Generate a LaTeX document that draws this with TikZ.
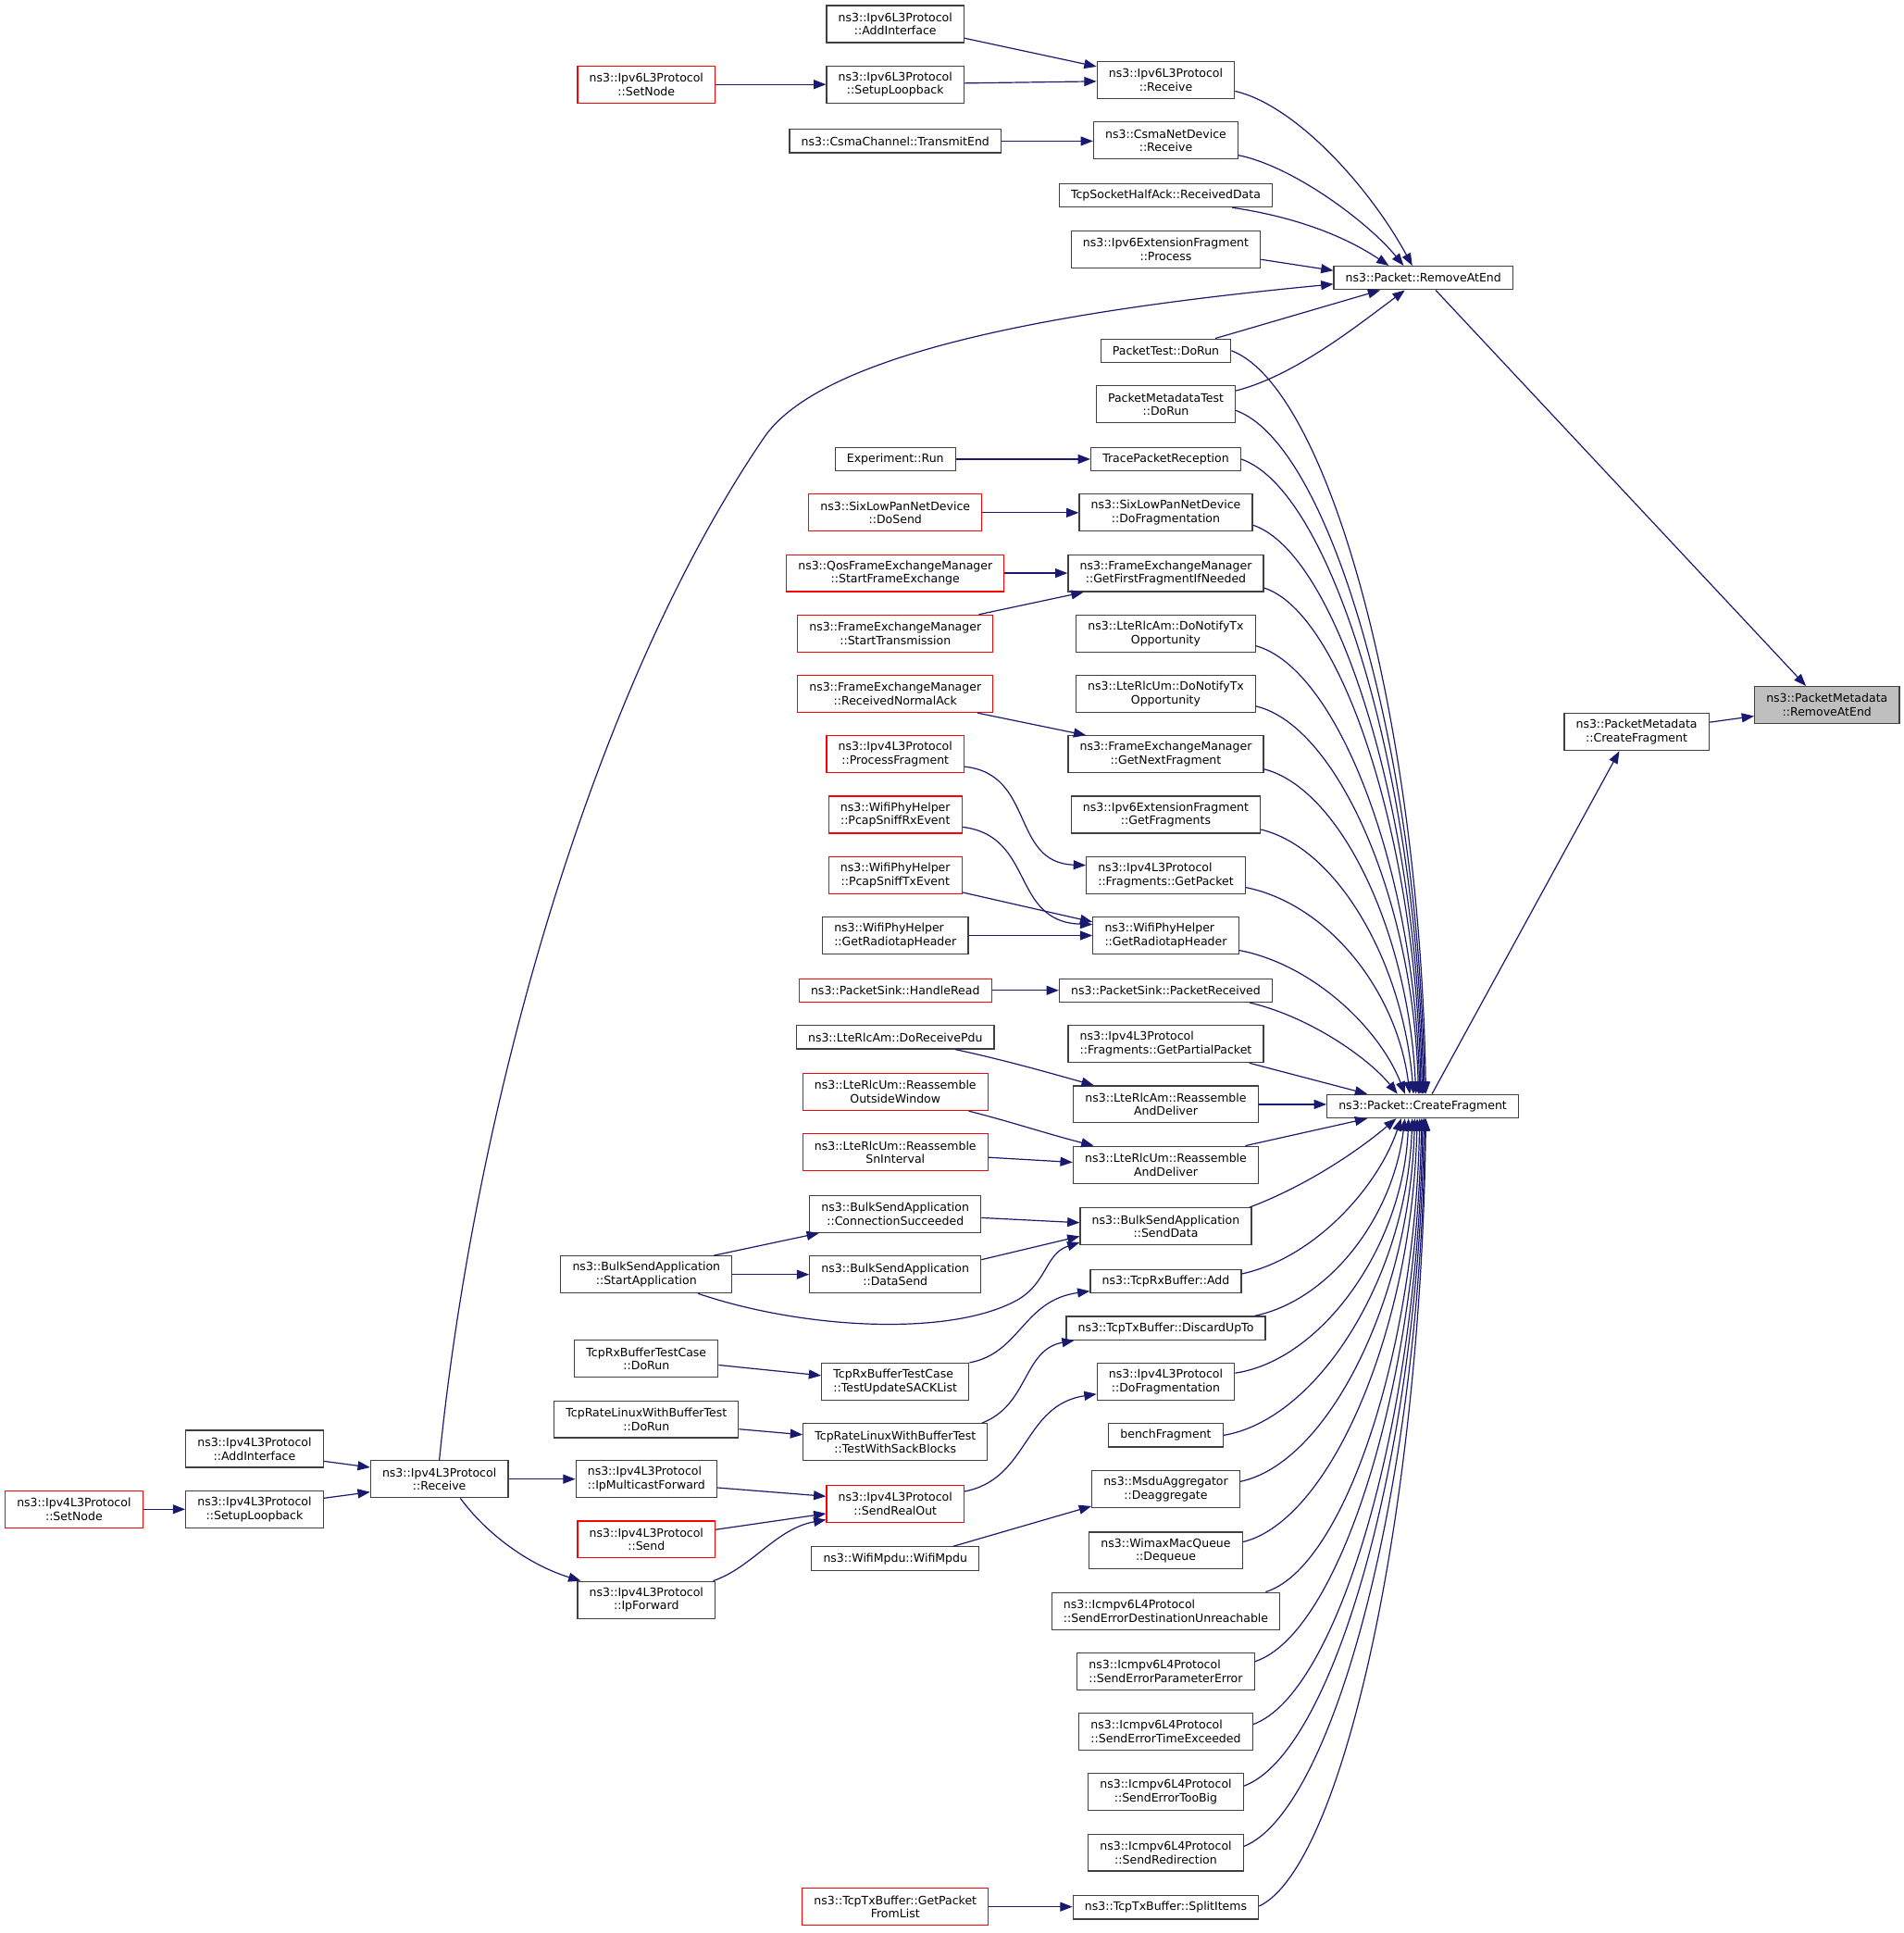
\documentclass[tikz,border=0pt]{standalone}
\usepackage{fontspec}
\setmainfont{DejaVu Sans}
\usetikzlibrary{arrows.meta,calc}
\definecolor{navy}{HTML}{191970}
\definecolor{bgray}{HTML}{404040}
\definecolor{focusgray}{HTML}{BFBFBF}
\newcommand\dxfont{\fontsize{9.4}{11}\selectfont}
\newcommand\fan[6]{\draw[dxedge] let \p1=(#1), \p2=(#2) in (\p1) .. controls ({\x1+#3*((\x2)-(\x1))},{\y1+#4*((\y2)-(\y1))}) and ({\x1+#5*((\x2)-(\x1))},{\y1+#6*((\y2)-(\y1))}) .. (\p2);}
\begin{document}
\begin{tikzpicture}[x=1pt,y=-1pt,
 dxnode/.style={draw=bgray, line width=0.9pt, inner xsep=9.5pt, inner ysep=0pt, minimum height=19pt, font=\dxfont, align=center, fill=white, text=black},
 dxtwo/.style={minimum height=30pt},
 dxred/.style={draw=red},
 dxfocus/.style={fill=focusgray},
 dxleft/.style={align=left},
 dxedge/.style={draw=navy, line width=0.9pt, -{Triangle[length=10pt,width=7.5pt]}}]
\fill[white] (0,0) rectangle (1545,1568.3);
\useasboundingbox (0,0) rectangle (1545,1568.3);

% right part
\node[dxnode,dxtwo,dxfocus] (pmremove) at (1482.5,572) {ns3::PacketMetadata\\::RemoveAtEnd};
\node[dxnode,dxtwo] (pmcreate) at (1328,594) {ns3::PacketMetadata\\::CreateFragment};
\node[dxnode] (rae) at (1155,225.5) {ns3::Packet::RemoveAtEnd};
\node[dxnode] (cf) at (1154.5,897.5) {ns3::Packet::CreateFragment};

% middle column
\node[dxnode,dxtwo] (v6recv) at (946,65) {ns3::Ipv6L3Protocol\\::Receive};
\node[dxnode,dxtwo] (csmarecv) at (946,114) {ns3::CsmaNetDevice\\::Receive};
\node[dxnode] (tcphalf) at (946,158.5) {TcpSocketHalfAck::ReceivedData};
\node[dxnode,dxtwo] (ipv6process) at (946,202.5) {ns3::Ipv6ExtensionFragment\\::Process};
\node[dxnode] (packettest) at (946,284.5) {PacketTest::DoRun};
\node[dxnode,dxtwo] (pmtest) at (946,328) {PacketMetadataTest\\::DoRun};
\node[dxnode] (trace) at (946,372.5) {TracePacketReception};
\node[dxnode,dxtwo] (sixfrag) at (946,416) {ns3::SixLowPanNetDevice\\::DoFragmentation};
\node[dxnode,dxtwo] (getfirst) at (946,465) {ns3::FrameExchangeManager\\::GetFirstFragmentIfNeeded};
\node[dxnode,dxtwo] (amnotify) at (946,514) {ns3::LteRlcAm::DoNotifyTx\\Opportunity};
\node[dxnode,dxtwo] (umnotify) at (946,563) {ns3::LteRlcUm::DoNotifyTx\\Opportunity};
\node[dxnode,dxtwo] (getnext) at (946,612) {ns3::FrameExchangeManager\\::GetNextFragment};
\node[dxnode,dxtwo] (getfrags) at (946,661) {ns3::Ipv6ExtensionFragment\\::GetFragments};
\node[dxnode,dxtwo,dxleft] (getpacket) at (946,710) {ns3::Ipv4L3Protocol\\::Fragments::GetPacket};
\node[dxnode,dxtwo,dxleft] (radiotapR) at (946,759) {ns3::WifiPhyHelper\\::GetRadiotapHeader};
\node[dxnode] (pktrecv) at (946,803.5) {ns3::PacketSink::PacketReceived};
\node[dxnode,dxtwo,dxleft] (partial) at (946,847) {ns3::Ipv4L3Protocol\\::Fragments::GetPartialPacket};
\node[dxnode,dxtwo] (amreasm) at (946,896) {ns3::LteRlcAm::Reassemble\\AndDeliver};
\node[dxnode,dxtwo] (umreasm) at (946,945) {ns3::LteRlcUm::Reassemble\\AndDeliver};
\node[dxnode,dxtwo] (senddata) at (946,995) {ns3::BulkSendApplication\\::SendData};
\node[dxnode] (rxadd) at (946,1039.5) {ns3::TcpRxBuffer::Add};
\node[dxnode] (discard) at (946,1077.5) {ns3::TcpTxBuffer::DiscardUpTo};
\node[dxnode,dxtwo] (ipv4frag) at (946,1121) {ns3::Ipv4L3Protocol\\::DoFragmentation};
\node[dxnode] (bench) at (946,1164.5) {benchFragment};
\node[dxnode,dxtwo] (deagg) at (946,1208) {ns3::MsduAggregator\\::Deaggregate};
\node[dxnode,dxtwo] (dequeue) at (946,1258) {ns3::WimaxMacQueue\\::Dequeue};
\node[dxnode,dxtwo,dxleft] (destun) at (946,1307) {ns3::Icmpv6L4Protocol\\::SendErrorDestinationUnreachable};
\node[dxnode,dxtwo,dxleft] (paramerr) at (946,1356) {ns3::Icmpv6L4Protocol\\::SendErrorParameterError};
\node[dxnode,dxtwo,dxleft] (timeexc) at (946,1405) {ns3::Icmpv6L4Protocol\\::SendErrorTimeExceeded};
\node[dxnode,dxtwo] (toobig) at (946,1454) {ns3::Icmpv6L4Protocol\\::SendErrorTooBig};
\node[dxnode,dxtwo] (redir) at (946,1503) {ns3::Icmpv6L4Protocol\\::SendRedirection};
\node[dxnode] (split) at (946,1547.5) {ns3::TcpTxBuffer::SplitItems};

% left column
\node[dxnode,dxtwo] (v6addif) at (726.5,19.5) {ns3::Ipv6L3Protocol\\::AddInterface};
\node[dxnode,dxtwo] (v6loop) at (726.5,68.5) {ns3::Ipv6L3Protocol\\::SetupLoopback};
\node[dxnode] (csmachan) at (726.5,114.5) {ns3::CsmaChannel::TransmitEnd};
\node[dxnode] (exprun) at (726.5,372.5) {Experiment::Run};
\node[dxnode,dxtwo,dxred] (dosend) at (726.5,416) {ns3::SixLowPanNetDevice\\::DoSend};
\node[dxnode,dxtwo,dxred] (qos) at (726.5,465) {ns3::QosFrameExchangeManager\\::StartFrameExchange};
\node[dxnode,dxtwo,dxred] (starttx) at (726.5,514) {ns3::FrameExchangeManager\\::StartTransmission};
\node[dxnode,dxtwo,dxred] (rxack) at (726.5,563) {ns3::FrameExchangeManager\\::ReceivedNormalAck};
\node[dxnode,dxtwo,dxred] (procfrag) at (726.5,612) {ns3::Ipv4L3Protocol\\::ProcessFragment};
\node[dxnode,dxtwo,dxred] (rxevent) at (726.5,661) {ns3::WifiPhyHelper\\::PcapSniffRxEvent};
\node[dxnode,dxtwo,dxred] (txevent) at (726.5,710) {ns3::WifiPhyHelper\\::PcapSniffTxEvent};
\node[dxnode,dxtwo,dxleft] (radiotapL) at (726.5,759) {ns3::WifiPhyHelper\\::GetRadiotapHeader};
\node[dxnode,dxred] (handleread) at (726.5,803.5) {ns3::PacketSink::HandleRead};
\node[dxnode] (rcvpdu) at (726.5,841.5) {ns3::LteRlcAm::DoReceivePdu};
\node[dxnode,dxtwo,dxred] (outside) at (726.5,886) {ns3::LteRlcUm::Reassemble\\OutsideWindow};
\node[dxnode,dxtwo,dxred] (sninterval) at (726.5,935) {ns3::LteRlcUm::Reassemble\\SnInterval};
\node[dxnode,dxtwo] (connsucc) at (726.5,985) {ns3::BulkSendApplication\\::ConnectionSucceeded};
\node[dxnode,dxtwo] (datasend) at (726.5,1034) {ns3::BulkSendApplication\\::DataSend};
\node[dxnode,dxtwo,dxleft] (sacklist) at (726.5,1121) {TcpRxBufferTestCase\\::TestUpdateSACKList};
\node[dxnode,dxtwo] (sackblocks) at (726.5,1170) {TcpRateLinuxWithBufferTest\\::TestWithSackBlocks};
\node[dxnode,dxtwo,dxred] (realout) at (726.5,1220) {ns3::Ipv4L3Protocol\\::SendRealOut};
\node[dxnode] (wifimpdu) at (726.5,1264.5) {ns3::WifiMpdu::WifiMpdu};
\node[dxnode,dxtwo,dxred] (getpktlist) at (726.5,1547) {ns3::TcpTxBuffer::GetPacket\\FromList};

% column 524.5
\node[dxnode,dxtwo,dxred] (v6setnode) at (524.5,68.5) {ns3::Ipv6L3Protocol\\::SetNode};
\node[dxnode,dxtwo] (startapp) at (524.5,1034) {ns3::BulkSendApplication\\::StartApplication};
\node[dxnode,dxtwo] (rxtcdorun) at (524.5,1102.5) {TcpRxBufferTestCase\\::DoRun};
\node[dxnode,dxtwo] (ratedorun) at (524.5,1151.5) {TcpRateLinuxWithBufferTest\\::DoRun};
\node[dxnode,dxtwo,dxleft] (mcast) at (524.5,1200) {ns3::Ipv4L3Protocol\\::IpMulticastForward};
\node[dxnode,dxtwo,dxred] (v4send) at (524.5,1249) {ns3::Ipv4L3Protocol\\::Send};
\node[dxnode,dxtwo] (ipfwd) at (524.5,1298) {ns3::Ipv4L3Protocol\\::IpForward};

% far left
\node[dxnode,dxtwo] (v4recv) at (356.5,1200) {ns3::Ipv4L3Protocol\\::Receive};
\node[dxnode,dxtwo] (v4addif) at (206.5,1175.5) {ns3::Ipv4L3Protocol\\::AddInterface};
\node[dxnode,dxtwo] (v4loop) at (206.5,1224.5) {ns3::Ipv4L3Protocol\\::SetupLoopback};
\node[dxnode,dxtwo,dxred] (v4setnode) at (60,1224.5) {ns3::Ipv4L3Protocol\\::SetNode};

% ---- edges, right part
\draw[dxedge] ([shift={(10,0)}]rae.south) -- ([shift={(-17,0)}]pmremove.north);
\draw[dxedge] ([shift={(0,-8)}]pmcreate.east) -- ([shift={(0,9)}]pmremove.west);
\draw[dxedge] ([shift={(7.5,0)}]cf.north) -- ([shift={(-14,0)}]pmcreate.south);

% ---- edges into Packet::RemoveAtEnd
\fan{[shift={(0,9)}]v6recv.east}{[shift={(-9,0)}]rae.north}{0.333}{0.077}{0.75}{0.535}
\fan{[shift={(0,12)}]csmarecv.east}{[shift={(-16,0)}]rae.north}{0.33}{0.1}{0.78}{0.6}
\fan{[shift={(-33,0)}]tcphalf.south east}{[shift={(-28,0)}]rae.north}{0.38}{0.15}{0.7}{0.46}
\draw[dxedge] ([shift={(0,8)}]ipv6process.east) -- ([shift={(0,-6)}]rae.west);
\draw[dxedge] (v4recv.north) .. controls (385,900) and (480,560) .. (620,355) .. controls (672,279) and (900,248) .. ([shift={(0,5)}]rae.west);
\draw[dxedge] ([shift={(-13,0)}]packettest.north east) -- ([shift={(-35,0)}]rae.south);
\fan{[shift={(0,-11)}]pmtest.east}{[shift={(-15,0)}]rae.south}{0.343}{0.146}{0.708}{0.634}

% ---- upper fan into Packet::CreateFragment
\fan{packettest.east}{[shift={(2.5,0)}]cf.north}{0.5}{0.05}{0.97}{0.5}
\fan{[shift={(0,5)}]pmtest.east}{[shift={(1.5,0)}]cf.north}{0.5}{0.05}{0.97}{0.5}
\fan{trace.east}{[shift={(0.5,0)}]cf.north}{0.5}{0.05}{0.97}{0.5}
\fan{[shift={(0,10)}]sixfrag.east}{[shift={(-0.5,0)}]cf.north}{0.5}{0.05}{0.97}{0.5}
\fan{[shift={(0,12)}]getfirst.east}{[shift={(-1.5,0)}]cf.north}{0.5}{0.05}{0.97}{0.5}
\fan{[shift={(0,10)}]amnotify.east}{[shift={(-2.5,0)}]cf.north}{0.5}{0.05}{0.97}{0.5}
\fan{[shift={(0,10)}]umnotify.east}{[shift={(-3.5,0)}]cf.north}{0.5}{0.05}{0.97}{0.5}
\fan{[shift={(0,12)}]getnext.east}{[shift={(-5.5,0)}]cf.north}{0.5}{0.06}{0.95}{0.5}
\fan{[shift={(0,12)}]getfrags.east}{[shift={(-7.5,0)}]cf.north}{0.5}{0.07}{0.93}{0.5}
\fan{[shift={(0,10)}]getpacket.east}{[shift={(-10.5,0)}]cf.north}{0.5}{0.08}{0.92}{0.5}
\fan{[shift={(0,12)}]radiotapR.east}{[shift={(-14.5,0)}]cf.north}{0.45}{0.1}{0.85}{0.55}
\fan{[shift={(-19,0)}]pktrecv.south east}{[shift={(-20.5,0)}]cf.north}{0.4}{0.15}{0.8}{0.6}
\draw[dxedge] ([shift={(-12,0)}]partial.south east) -- ([shift={(-45,0)}]cf.north);
\draw[dxedge] (amreasm.east) -- (amreasm.east -| cf.west);

% ---- lower fan into Packet::CreateFragment
\draw[dxedge] ([shift={(-11,0)}]umreasm.north east) -- ([shift={(-45,0)}]cf.south);
\fan{[shift={(-2,0)}]senddata.north east}{[shift={(-21.5,0)}]cf.south}{0.4}{0.25}{0.75}{0.65}
\fan{[shift={(0,-6)}]rxadd.east}{[shift={(-17.5,0)}]cf.south}{0.45}{0.1}{0.85}{0.55}
\fan{[shift={(-9,0)}]discard.north east}{[shift={(-14.5,0)}]cf.south}{0.5}{0.08}{0.92}{0.5}
\fan{[shift={(0,-7)}]ipv4frag.east}{[shift={(-11.5,0)}]cf.south}{0.5}{0.05}{0.97}{0.5}
\fan{bench.east}{[shift={(-8.5,0)}]cf.south}{0.5}{0.05}{0.97}{0.5}
\fan{[shift={(0,-6)}]deagg.east}{[shift={(-6.5,0)}]cf.south}{0.5}{0.05}{0.97}{0.5}
\fan{[shift={(0,-7)}]dequeue.east}{[shift={(-4.5,0)}]cf.south}{0.5}{0.05}{0.97}{0.5}
\fan{[shift={(-12,0)}]destun.north east}{[shift={(-2.5,0)}]cf.south}{0.5}{0.05}{0.97}{0.5}
\fan{[shift={(0,-8)}]paramerr.east}{[shift={(-1,0)}]cf.south}{0.5}{0.05}{0.97}{0.5}
\fan{[shift={(0,-6)}]timeexc.east}{[shift={(0,0)}]cf.south}{0.5}{0.05}{0.97}{0.5}
\fan{[shift={(0,-5)}]toobig.east}{[shift={(1,0)}]cf.south}{0.5}{0.05}{0.97}{0.5}
\fan{[shift={(0,-5)}]redir.east}{[shift={(2,0)}]cf.south}{0.5}{0.05}{0.97}{0.5}
\fan{[shift={(0,-1)}]split.east}{[shift={(2.5,0)}]cf.south}{0.5}{0.05}{0.97}{0.5}

% ---- second level edges
\draw[dxedge] ([shift={(0,11.5)}]v6addif.east) -- ([shift={(0,-11)}]v6recv.west);
\draw[dxedge] ([shift={(0,-1)}]v6loop.east) -- ([shift={(0,1)}]v6recv.west);
\draw[dxedge] (v6setnode.east) -- (v6loop.west);
\draw[dxedge] (csmachan.east) -- (csmachan.east -| csmarecv.west);
\draw[dxedge] (exprun.east) -- (trace.west);
\draw[dxedge] (dosend.east) -- (sixfrag.west);
\draw[dxedge] (qos.east) -- (getfirst.west);
\draw[dxedge] ([shift={(-12,0)}]starttx.north east) -- ([shift={(13,0)}]getfirst.south west);
\draw[dxedge] ([shift={(-13,0)}]rxack.south east) -- ([shift={(15,0)}]getnext.north west);
\draw[dxedge] ([shift={(0,10)}]procfrag.east) .. controls (840,628) and (820,700) .. ([shift={(0,-8)}]getpacket.west);
\draw[dxedge] ([shift={(0,10)}]rxevent.east) .. controls (840,678) and (820,748) .. ([shift={(0,-9)}]radiotapR.west);
\draw[dxedge] ([shift={(0,14)}]txevent.east) -- ([shift={(0,-11)}]radiotapR.west);
\draw[dxedge] (radiotapL.east) -- (radiotapR.west);
\draw[dxedge] (handleread.east) -- (pktrecv.west);
\draw[dxedge] ([shift={(-32,0)}]rcvpdu.south east) .. controls (815,860) and (850,870) .. ([shift={(17,0)}]amreasm.north west);
\draw[dxedge] ([shift={(-16,0)}]outside.south east) .. controls (820,910) and (850,920) .. ([shift={(17,0)}]umreasm.north west);
\draw[dxedge] ([shift={(0,4)}]sninterval.east) -- ([shift={(0,-2)}]umreasm.west);
\draw[dxedge] ([shift={(0,3)}]connsucc.east) -- ([shift={(0,-3)}]senddata.west);
\draw[dxedge] ([shift={(0,-12)}]datasend.east) -- ([shift={(0,8)}]senddata.west);
\draw[dxedge] ([shift={(-28,0)}]startapp.south east) .. controls (650,1078) and (770,1085) .. (825,1055) .. controls (850,1041) and (848,1017) .. ([shift={(0,13)}]senddata.west);
\draw[dxedge] ([shift={(-15,0)}]startapp.north east) -- ([shift={(8,0)}]connsucc.south west);
\draw[dxedge] (startapp.east) -- (datasend.west);
\draw[dxedge] (sacklist.north east) .. controls (828,1098) and (830,1055) .. ([shift={(0,8)}]rxadd.west);
\draw[dxedge] ([shift={(0,5)}]rxtcdorun.east) -- ([shift={(0,-5)}]sacklist.west);
\draw[dxedge] ([shift={(-5,0)}]sackblocks.north east) .. controls (835,1140) and (830,1095) .. ([shift={(7,0)}]discard.south west);
\draw[dxedge] ([shift={(0,8)}]ratedorun.east) -- ([shift={(0,-6)}]sackblocks.west);
\draw[dxedge] ([shift={(0,-10)}]realout.east) .. controls (835,1200) and (830,1140) .. ([shift={(0,10)}]ipv4frag.west);
\draw[dxedge] ([shift={(0,7)}]mcast.east) -- ([shift={(0,-6)}]realout.west);
\draw[dxedge] ([shift={(0,-8)}]v4send.east) -- ([shift={(0,8)}]realout.west);
\draw[dxedge] ([shift={(-2,0)}]ipfwd.north east) .. controls (610,1272) and (630,1240) .. ([shift={(0,13)}]realout.west);
\draw[dxedge] ([shift={(47,0)}]wifimpdu.north) -- ([shift={(0,14)}]deagg.west);
\draw[dxedge] (v4recv.east) -- (mcast.west);
\draw[dxedge] ([shift={(17,0)}]v4recv.south) .. controls (395,1245) and (430,1270) .. ([shift={(3,0)}]ipfwd.north west);
\draw[dxedge] ([shift={(0,10)}]v4addif.east) -- ([shift={(0,-9.5)}]v4recv.west);
\draw[dxedge] ([shift={(0,-9)}]v4loop.east) -- ([shift={(0,10.5)}]v4recv.west);
\draw[dxedge] (v4setnode.east) -- (v4loop.west);
\draw[dxedge] (getpktlist.east) -- (getpktlist.east -| split.west);
\end{tikzpicture}
\end{document}
